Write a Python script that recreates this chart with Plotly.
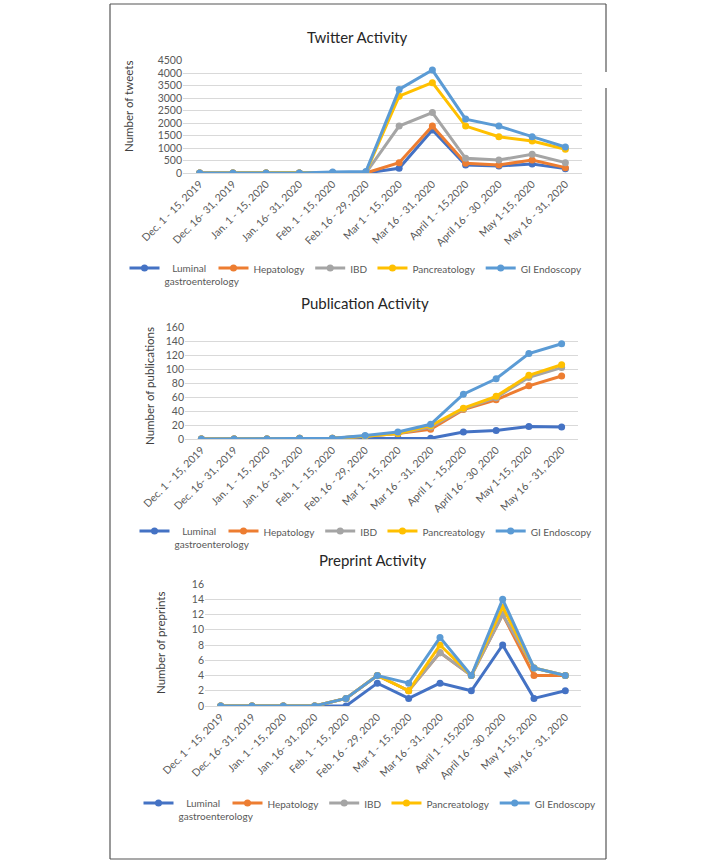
import plotly.graph_objects as go

W, H = 719, 863

categories = ["Dec. 1 - 15, 2019", "Dec. 16- 31, 2019", "Jan. 1 - 15, 2020", "Jan. 16- 31, 2020",
              "Feb. 1 - 15, 2020", "Feb. 16 - 29, 2020", "Mar 1 - 15, 2020", "Mar 16 - 31, 2020",
              "April 1 - 15,2020", "April 16 - 30 ,2020", "May 1-15, 2020", "May 16 - 31, 2020"]

series_names = ["&nbsp;&nbsp;&nbsp;Luminal<br>gastroenterology", "Hepatology", "IBD", "Pancreatology", "GI Endoscopy"]
series_colors = ["#4472C4", "#ED7D31", "#A5A5A5", "#FFC000", "#5B9BD5"]

# Twitter activity (number of tweets)
tw_luminal = [0, 0, 0, 0, 0, 0, 190, 1720, 320, 280, 360, 175]
tw_hepatology = [0, 0, 0, 0, 0, 0, 414, 1880, 390, 320, 520, 215]
tw_ibd = [0, 0, 0, 0, 0, 0, 1880, 2420, 590, 520, 750, 415]
tw_pancreatology = [0, 0, 0, 0, 0, 30, 3080, 3620, 1880, 1455, 1280, 950]
tw_gi = [0, 0, 0, 0, 40, 60, 3350, 4125, 2160, 1880, 1455, 1040]

# Publication activity
pub_luminal = [0, 0, 0, 0, 0, 1, 1, 1, 10, 12, 18, 17]
pub_hepatology = [0, 0, 0, 1, 1, 4, 8, 14, 42, 56, 76, 90]
pub_ibd = [0, 0, 0, 1, 1, 4, 8, 17, 43, 59, 88, 102]
pub_pancreatology = [0, 0, 0, 1, 1, 4, 8, 19, 44, 61, 91, 106]
pub_gi = [0, 0, 0, 1, 1, 5, 10, 21, 64, 86, 122, 136]

# Preprint activity
pre_luminal = [0, 0, 0, 0, 0, 3, 1, 3, 2, 8, 1, 2]
pre_hepatology = [0, 0, 0, 0, 1, 4, 2, 7, 4, 12, 4, 4]
pre_ibd = [0, 0, 0, 0, 1, 4, 2, 7, 4, 12, 5, 4]
pre_pancreatology = [0, 0, 0, 0, 1, 4, 2, 8, 4, 13, 5, 4]
pre_gi = [0, 0, 0, 0, 1, 4, 3, 9, 4, 14, 5, 4]

panels = [
    dict(data=[tw_luminal, tw_hepatology, tw_ibd, tw_pancreatology, tw_gi],
         title="Twitter Activity", ytitle="Number of tweets", yrange=[0, 4500], dtick=500,
         x0=183, x1=582, ytop=60.7, ybot=173, title_xy=(357, 37), ytitle_xy=(128, 107),
         legend_xy=(356, 255)),
    dict(data=[pub_luminal, pub_hepatology, pub_ibd, pub_pancreatology, pub_gi],
         title="Publication Activity", ytitle="Number of publications", yrange=[0, 160], dtick=20,
         x0=185, x1=578, ytop=327, ybot=439, title_xy=(365, 303), ytitle_xy=(149, 386),
         legend_xy=(366, 518)),
    dict(data=[pre_luminal, pre_hepatology, pre_ibd, pre_pancreatology, pre_gi],
         title="Preprint Activity", ytitle="Number of preprints", yrange=[0, 16], dtick=2,
         x0=205, x1=581, ytop=584, ybot=706, title_xy=(372, 560), ytitle_xy=(160, 643),
         legend_xy=(370, 790)),
]

FONT = "Lato, 'Open Sans', sans-serif"

def X(px):
    return px / W

def Y(py):
    return 1 - py / H

fig = go.Figure()
layout = dict(width=W, height=H, margin=dict(l=0, r=0, t=0, b=0, autoexpand=False),
              paper_bgcolor="white", plot_bgcolor="white",
              font=dict(family=FONT, color="#595959", size=10),
              annotations=[], shapes=[])

for i, p in enumerate(panels):
    n = i + 1
    xa = "x" if n == 1 else f"x{n}"
    ya = "y" if n == 1 else f"y{n}"
    leg = "legend" if n == 1 else f"legend{n}"
    for k, (name, color, vals) in enumerate(zip(series_names, series_colors, p["data"])):
        extra = dict(legendwidth=44) if k == 0 else {}
        fig.add_trace(go.Scatter(
            x=categories, y=vals, name=name, mode="lines+markers",
            line=dict(color=color, width=3), marker=dict(color=color, size=7),
            xaxis=xa, yaxis=ya, legend=leg, showlegend=True, **extra))
    xkey = "xaxis" if n == 1 else f"xaxis{n}"
    ykey = "yaxis" if n == 1 else f"yaxis{n}"
    layout[xkey] = dict(domain=[X(p["x0"]), X(p["x1"])], anchor=ya, type="category",
                        range=[-0.5, len(categories) - 0.5], tickangle=-45,
                        showgrid=False, showline=True, linecolor="#D9D9D9", linewidth=1,
                        ticks="", tickfont=dict(size=10.5, color="#595959"), fixedrange=True,
                        automargin=False)
    layout[ykey] = dict(domain=[Y(p["ybot"]), Y(p["ytop"])], anchor=xa, range=p["yrange"],
                        dtick=p["dtick"], showgrid=True, gridcolor="#D9D9D9", gridwidth=1,
                        zeroline=False, showline=False, ticks="",
                        tickfont=dict(size=10.5, color="#595959"), fixedrange=True,
                        automargin=False)
    layout[leg] = dict(orientation="h", x=X(p["legend_xy"][0]), xanchor="center",
                       y=Y(p["legend_xy"][1]), yanchor="top", bgcolor="rgba(0,0,0,0)",
                       font=dict(size=10, color="#595959", family=FONT),
                       itemwidth=30, tracegroupgap=0, valign="top")
    layout["annotations"].append(dict(text=p["title"], x=X(p["title_xy"][0]), y=Y(p["title_xy"][1]),
                                      xref="paper", yref="paper", showarrow=False,
                                      xanchor="center", yanchor="middle",
                                      font=dict(size=15, color="#262626", family=FONT)))
    layout["annotations"].append(dict(text=p["ytitle"], x=X(p["ytitle_xy"][0]), y=Y(p["ytitle_xy"][1]),
                                      xref="paper", yref="paper", showarrow=False, textangle=-90,
                                      xanchor="center", yanchor="middle",
                                      font=dict(size=11.5, color="#404040", family=FONT)))

# outer frame
frame = [(110, 4, 606, 4), (110, 4, 110, 859), (110, 859, 606, 859),
         (606, 4, 606, 72), (606, 88, 606, 859)]
for (xa0, ya0, xa1, ya1) in frame:
    layout["shapes"].append(dict(type="line", xref="paper", yref="paper",
                                 x0=X(xa0), y0=Y(ya0), x1=X(xa1), y1=Y(ya1),
                                 line=dict(color="#555555", width=1.2)))

fig.update_layout(**layout)
fig.write_html("out.html", config={"displayModeBar": False},
               post_script="document.body.style.margin='0';document.body.style.overflow='hidden';")
